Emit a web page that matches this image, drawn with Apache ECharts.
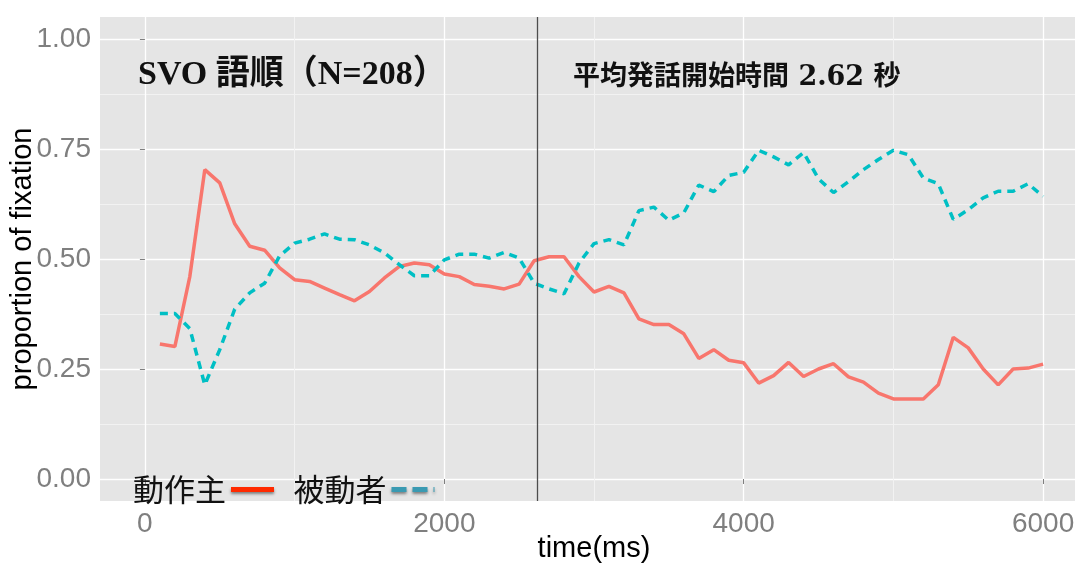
<!DOCTYPE html>
<html>
<head>
<meta charset="utf-8">
<script src="https://cdn.jsdelivr.net/npm/echarts@6/dist/echarts.min.js"></script>
<style>
html,body{margin:0;padding:0;background:#fff;}
#chart{width:1075px;height:563px;}
</style>
</head>
<body>
<div id="chart"></div>
<script>
// ---- data ----
var times = [100,200,300,400,500,600,700,800,900,1000,1100,1200,1300,1400,1500,1600,1700,1800,1900,2000,
             2100,2200,2300,2400,2500,2600,2700,2800,2900,3000,3100,3200,3300,3400,3500,3600,3700,3800,3900,4000,
             4100,4200,4300,4400,4500,4600,4700,4800,4900,5000,5100,5200,5300,5400,5500,5600,5700,5800,5900,6000];
var agentValues = [0.307,0.301,0.460,0.703,0.673,0.580,0.529,0.520,0.480,0.453,0.449,0.434,0.419,0.405,0.426,0.457,0.483,0.491,0.487,0.466,
                   0.460,0.442,0.438,0.432,0.443,0.496,0.505,0.505,0.460,0.425,0.438,0.423,0.364,0.351,0.351,0.330,0.274,0.294,0.270,0.264,
                   0.218,0.235,0.265,0.233,0.250,0.262,0.232,0.220,0.195,0.182,0.182,0.182,0.214,0.322,0.298,0.250,0.214,0.250,0.252,0.261];
var patientValues = [0.376,0.376,0.342,0.214,0.294,0.386,0.423,0.445,0.507,0.536,0.545,0.557,0.545,0.544,0.532,0.514,0.487,0.462,0.462,0.498,
                     0.511,0.511,0.502,0.515,0.502,0.445,0.432,0.421,0.491,0.535,0.544,0.532,0.610,0.618,0.588,0.605,0.668,0.653,0.690,0.697,
                     0.747,0.732,0.714,0.742,0.682,0.651,0.676,0.703,0.726,0.747,0.737,0.684,0.671,0.590,0.612,0.639,0.654,0.654,0.671,0.642];
var seriesNames = ['動作主', '被動者'];
var xMajorTicks = [0, 2000, 4000, 6000];
var xMinorTicks = [1000, 3000, 5000];
var yMajorTicks = [0, 0.25, 0.5, 0.75, 1.0];
var yMinorTicks = [0.125, 0.375, 0.625, 0.875];
var speechOnset = 2620;
var titleText = 'SVO 語順（N=208）';
var onsetText = '平均発話開始時間 2.62 秒';
var xName = 'time(ms)';
var yName = 'proportion of fixation';

function pairs(xs, ys){ return xs.map(function(x,i){ return [x, ys[i]]; }); }

var chart = echarts.init(document.getElementById('chart'), null, {renderer:'canvas'});
var gray = '#7f7f7f';
var option = {
  backgroundColor: '#ffffff',
  animation: false,
  title: [
    {text: titleText, left: 133, top: 53,
     textStyle: {fontFamily: '"Liberation Serif","Noto Sans CJK JP"', fontWeight: 'bold', fontSize: 34, color: '#111'}},
    {text: onsetText, left: 568, top: 59,
     textStyle: {fontFamily: '"DejaVu Serif","Noto Sans CJK JP"', fontWeight: 'bold', fontSize: 27, color: '#111'}}
  ],
  legend: {
    left: 128, top: 469, align: 'right', orient: 'horizontal',
    itemWidth: 43, itemHeight: 5, itemGap: 17,
    textStyle: {fontFamily: '"Noto Sans CJK JP"', fontSize: 31, color: '#111'},
    data: [
      {name: seriesNames[0], itemStyle: {opacity: 0},
       lineStyle: {color: '#ff2a00', width: 5, type: 'solid', shadowBlur: 3, shadowColor: 'rgba(0,0,0,0.45)', shadowOffsetY: 2}},
      {name: seriesNames[1], itemStyle: {opacity: 0},
       lineStyle: {color: '#3a9ab2', width: 5, type: [15, 6], shadowBlur: 3, shadowColor: 'rgba(0,0,0,0.45)', shadowOffsetY: 2}}
    ]
  },
  grid: {left: 100, top: 17, width: 988, height: 484, show: true, backgroundColor: '#e5e5e5', borderWidth: 0,
         containLabel: false, outerBoundsMode: 'none'},
  xAxis: [
    {type: 'value', min: -300, max: 6300, position: 'bottom',
     name: xName, nameLocation: 'middle', nameGap: 33, nameMoveOverlap: false,
     nameTextStyle: {fontFamily: 'Liberation Sans', fontSize: 29, color: '#000'},
     axisLine: {show: false},
     axisTick: {show: true, length: 5, lineStyle: {color: gray, width: 1}, customValues: xMajorTicks},
     axisLabel: {customValues: xMajorTicks, margin: 9, fontFamily: 'Liberation Sans', fontSize: 28, color: gray,
                 formatter: function(v){ return String(v); }},
     splitLine: {show: true, lineStyle: {color: '#ffffff', width: 1.3}}},
    {type: 'value', min: -300, max: 6300, position: 'top',
     axisLine: {show: false},
     axisTick: {show: true, length: 0, lineStyle: {color: 'rgba(0,0,0,0)'}, customValues: xMinorTicks},
     axisLabel: {show: false, customValues: xMinorTicks},
     splitLine: {show: true, lineStyle: {color: '#f2f2f2', width: 1}}}
  ],
  yAxis: [
    {type: 'value', min: -0.05, max: 1.05, position: 'left',
     name: yName, nameLocation: 'middle', nameGap: 63, nameMoveOverlap: false,
     nameTextStyle: {fontFamily: 'Liberation Sans', fontSize: 29, color: '#000'},
     axisLine: {show: false},
     axisTick: {show: true, length: 5, lineStyle: {color: gray, width: 1}, customValues: yMajorTicks},
     axisLabel: {customValues: yMajorTicks, margin: 9, fontFamily: 'Liberation Sans', fontSize: 28, color: gray,
                 formatter: function(v){ return v.toFixed(2); }},
     splitLine: {show: true, lineStyle: {color: '#ffffff', width: 1.3}}},
    {type: 'value', min: -0.05, max: 1.05, position: 'right',
     axisLine: {show: false},
     axisTick: {show: true, length: 0, lineStyle: {color: 'rgba(0,0,0,0)'}, customValues: yMinorTicks},
     axisLabel: {show: false, customValues: yMinorTicks},
     splitLine: {show: true, lineStyle: {color: '#f2f2f2', width: 1}}}
  ],
  series: [
    {name: seriesNames[0], type: 'line', xAxisIndex: 0, yAxisIndex: 0, symbol: 'none', showSymbol: false,
     data: pairs(times, agentValues), color: '#f8766d',
     lineStyle: {color: '#f8766d', width: 3.5, type: 'solid'},
     markLine: {silent: true, symbol: ['none','none'], label: {show: false},
                lineStyle: {color: '#4d4d4d', width: 1.3, type: 'solid'},
                data: [{xAxis: speechOnset}]}},
    {name: seriesNames[1], type: 'line', xAxisIndex: 0, yAxisIndex: 0, symbol: 'none', showSymbol: false,
     data: pairs(times, patientValues), color: '#00bfc4',
     lineStyle: {color: '#00bfc4', width: 3.5, type: [8, 6]}}
  ]
};
chart.setOption(option);
</script>
</body>
</html>
